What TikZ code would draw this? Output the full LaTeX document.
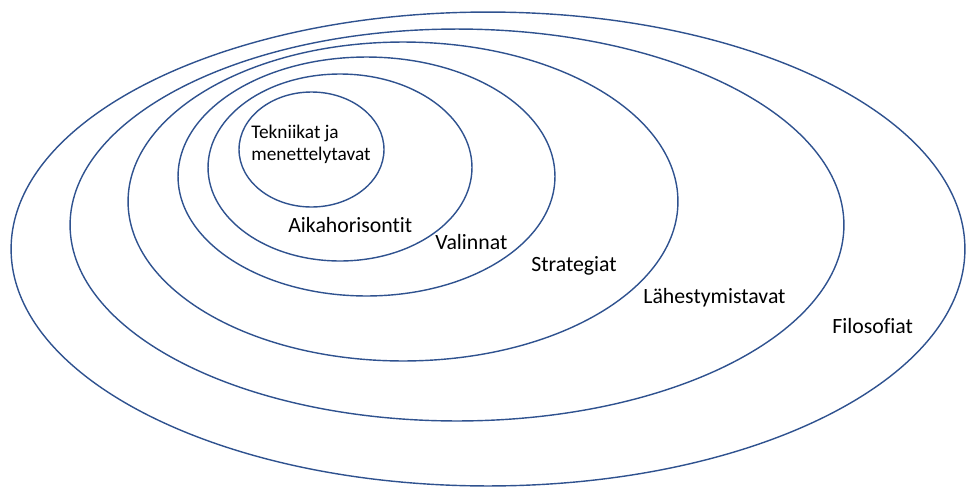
\documentclass[tikz,border=0pt]{standalone}
\usepackage{fontspec}
\setmainfont[Ligatures={NoCommon}]{Carlito}
\usetikzlibrary{shapes.geometric}
\definecolor{ringblue}{HTML}{2F528F}

\begin{document}
\begin{tikzpicture}[x=0.02cm,y=-0.02cm,
 ring/.style={draw=ringblue,line width=0.8pt,ellipse,inner sep=0pt},
 lbl/.style={anchor=base west,inner sep=0pt,font=\fontsize{12.4}{15}\selectfont}]
\useasboundingbox (0,0) rectangle (966,487);
\node[ring,minimum width=19.08cm,minimum height=9.48cm] (filo) at (488,249) {};
\node[ring,minimum width=15.48cm,minimum height=7.84cm] (lahe) at (457,225) {};
\node[ring,minimum width=11.0cm,minimum height=6.38cm] (strat) at (403,201.5) {};
\node[ring,minimum width=7.54cm,minimum height=4.78cm] (vali) at (366.5,176.5) {};
\node[ring,minimum width=5.28cm,minimum height=3.74cm] (aika) at (340,167.5) {};
\node[ring,minimum width=2.9cm,minimum height=2.3cm] (tekn) at (311.5,149.5) {};

\node[anchor=north west,inner sep=0pt,align=left,font=\fontsize{11}{12.5}\selectfont] (teknlbl) at (251,124.5) {Tekniikat ja\\menettelytavat};
\node[lbl] (aikalbl) at (288,232) {Aikahorisontit};
\node[lbl] (valilbl) at (435,249) {Valinnat};
\node[lbl] (stratlbl) at (531,271.5) {Strategiat};
\node[lbl] (lahelbl) at (643,303) {Lähestymistavat};
\node[lbl] (filolbl) at (832,333) {Filosofiat};
\end{tikzpicture}
\end{document}
